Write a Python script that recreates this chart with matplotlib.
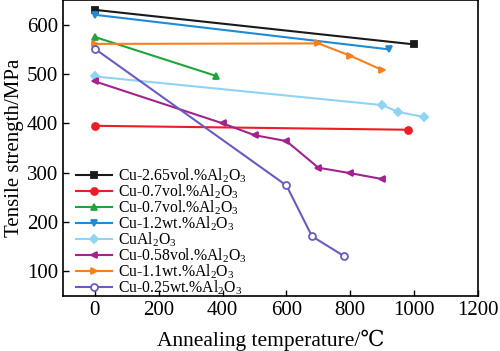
import matplotlib
matplotlib.use("Agg")
import matplotlib.pyplot as plt

plt.rcParams["font.family"] = ["Liberation Serif", "DejaVu Serif"]
plt.rcParams["mathtext.fontset"] = "custom"
plt.rcParams["mathtext.rm"] = "Liberation Serif"
plt.rcParams["mathtext.it"] = "Liberation Serif:italic"

# series data (annealing temperature in C, tensile strength in MPa)
labels = [
    r"Cu-2.65vol.%Al$_2$O$_3$",
    r"Cu-0.7vol.%Al$_2$O$_3$",
    r"Cu-0.7vol.%Al$_2$O$_3$",
    r"Cu-1.2wt.%Al$_2$O$_3$",
    r"CuAl$_2$O$_3$",
    r"Cu-0.58vol.%Al$_2$O$_3$",
    r"Cu-1.1wt.%Al$_2$O$_3$",
    r"Cu-0.25wt.%Al$_2$O$_3$",
]
temps = [
    [0, 1000],
    [0, 980],
    [0, 380],
    [0, 920],
    [0, 900, 950, 1030],
    [0, 400, 500, 600, 700, 800, 900],
    [0, 700, 800, 900],
    [0, 600, 680, 780],
]
strengths = [
    [630, 560],
    [395, 387],
    [575, 496],
    [620, 550],
    [495, 437, 423, 413],
    [485, 400, 376, 364, 310, 299, 287],
    [561, 562, 537, 508],
    [551, 274, 171, 131],
]
colors = ["#1a1a1a", "#ee1c25", "#1ea53c", "#1f8ad6", "#8fd3f5",
          "#a3238e", "#f6801e", "#6a5bc4"]
markers = ["s", "o", "^", "v", "D", "<", ">", "o"]

fig = plt.figure(figsize=(5.0, 3.51), dpi=100)
ax = fig.add_axes([63 / 500, 55 / 351, 415 / 500, 296 / 351])

for i in range(len(labels)):
    open_marker = i == 7
    ax.plot(temps[i], strengths[i], color=colors[i], marker=markers[i],
            markersize=5 if markers[i] != "D" else 4.5, linewidth=1.5,
            markerfacecolor="white" if open_marker else colors[i],
            markeredgewidth=1.3, label=labels[i])

ax.set_xlim(-100, 1200)
ax.set_ylim(50, 650)
ax.set_xticks([0, 200, 400, 600, 800, 1000, 1200])
ax.set_yticks([100, 200, 300, 400, 500, 600])
ax.tick_params(direction="in", labelsize=15, length=4, width=1,
               top=False, right=False)
for s in ax.spines.values():
    s.set_linewidth(1.2)

ax.set_xlabel("Annealing temperature/\u2103", fontsize=15.5, labelpad=7)
ax.set_ylabel("Tensile strength/MPa", fontsize=15, labelpad=2)

ax.legend(loc="lower left", frameon=False, fontsize=11.3, handlelength=2.3,
          handletextpad=0.4, labelspacing=-0.15, borderaxespad=0.3,
          bbox_to_anchor=(0.005, -0.04))

fig.savefig("out.png", dpi=100)
